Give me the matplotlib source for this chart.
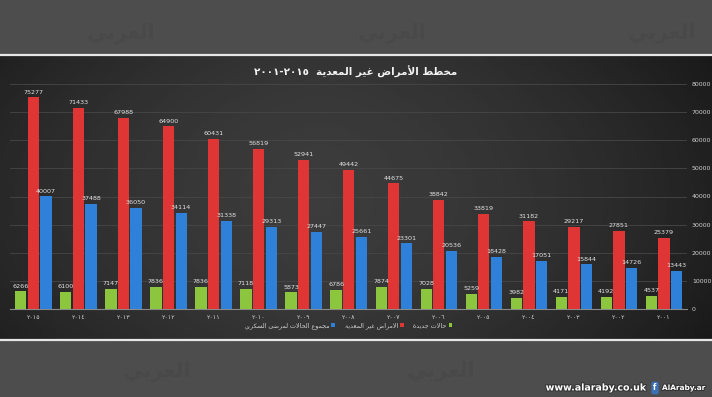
import matplotlib
matplotlib.use("Agg")
import matplotlib.pyplot as plt
import matplotlib.patheffects as pe
import numpy as np
from matplotlib.lines import Line2D

# data (2015 -> 2001)
years = ['٢٠١٥', '٢٠١٤', '٢٠١٣', '٢٠١٢', '٢٠١١', '٢٠١٠', '٢٠٠٩', '٢٠٠٨',
         '٢٠٠٧', '٢٠٠٦', '٢٠٠٥', '٢٠٠٤', '٢٠٠٣', '٢٠٠٢', '٢٠٠١']
new_cases = [6266, 6100, 7147, 7836, 7836, 7118, 5873, 6786, 7874, 7028,
             5259, 3982, 4171, 4192, 4537]
non_communicable = [75277, 71433, 67988, 64900, 60431, 56819, 52941, 49442,
                    44675, 38842, 33819, 31182, 29217, 27851, 25379]
diabetes_total = [40007, 37488, 36050, 34114, 31338, 29313, 27447, 25661,
                  23301, 20536, 18428, 17051, 15844, 14726, 13443]

title_text = 'مخطط الأمراض غير المعدية'
title_years = '٢٠٠١-٢٠١٥'
label_new = 'حالات جديدة'
label_ncd = 'الامراض غير المعدية'
label_diab = 'مجموع الحالات لمرضى السكري'

# matplotlib does no Arabic shaping, so pick presentation forms by hand
DUAL = {'ب': 0xFE8F, 'ت': 0xFE95, 'ج': 0xFE9D, 'ح': 0xFEA1, 'خ': 0xFEA5,
        'س': 0xFEB1, 'ض': 0xFEBD, 'ط': 0xFEC1, 'ع': 0xFEC9, 'غ': 0xFECD,
        'ك': 0xFED9, 'ل': 0xFEDD, 'م': 0xFEE1, 'ن': 0xFEE5, 'ي': 0xFEF1}
RIGHT = {'ا': 0xFE8D, 'أ': 0xFE83, 'ة': 0xFE93, 'د': 0xFEA9, 'ر': 0xFEAD,
         'و': 0xFEED, 'ى': 0xFEEF}
LAMALEF = {'ا': 0xFEFB, 'أ': 0xFEF7}


def ar(text):
    out = []
    prev_joins = False
    i = 0
    while i < len(text):
        c = text[i]
        nxt = text[i + 1] if i + 1 < len(text) else ''
        if c == 'ل' and nxt in LAMALEF:
            out.append(chr(LAMALEF[nxt] + (1 if prev_joins else 0)))
            prev_joins = False
            i += 2
            continue
        if c in DUAL:
            next_join = nxt in DUAL or nxt in RIGHT
            base = DUAL[c]
            if prev_joins and next_join:
                code = base + 3
            elif prev_joins:
                code = base + 1
            elif next_join:
                code = base + 2
            else:
                code = base
            out.append(chr(code))
            prev_joins = next_join
        elif c in RIGHT:
            out.append(chr(RIGHT[c] + (1 if prev_joins else 0)))
            prev_joins = False
        else:
            out.append(c)
            prev_joins = False
        i += 1
    return ''.join(reversed(out))


plt.rcParams['font.family'] = ['DejaVu Sans']

W, H = 712, 397
fig = plt.figure(figsize=(W / 100, H / 100), dpi=100, facecolor='#4d4d4d')

# faint logo watermarks on the grey bands
for wx, wy in [(0.17, 0.915), (0.55, 0.915), (0.93, 0.915),
               (0.22, 0.065), (0.62, 0.065)]:
    fig.text(wx, wy, ar('العربي'), fontsize=15, fontweight='bold',
             color='#494949', ha='center', va='center')

# dark chart panel with a soft gradient
bg = fig.add_axes([0, (H - 340) / H, 1, 284 / H])
xx = np.linspace(-1, 1, 300)
yy = np.linspace(-1, 1, 100)
X, Y = np.meshgrid(xx, yy)
shade = 0.235 - 0.09 * np.abs(X + 0.1) ** 1.6 - 0.03 * Y ** 2
bg.imshow(shade, cmap='gray', vmin=0, vmax=1, aspect='auto',
          extent=[0, 1, 0, 1])
bg.set_axis_off()

fig.add_artist(Line2D([0, 1], [(H - 55) / H] * 2, color='#e6e6e6', lw=1.6))
fig.add_artist(Line2D([0, 1], [(H - 340) / H] * 2, color='#e6e6e6', lw=1.6))

ax = fig.add_axes([10 / W, 88 / H, 677 / W, 225 / H])
ax.set_facecolor('none')

x = np.arange(len(years))
w = 0.25
b1 = ax.bar(x - 0.28, new_cases, w, color='#8cc63f', label=label_new, zorder=3)
b2 = ax.bar(x, non_communicable, w, color='#e03535', label=label_ncd, zorder=3)
b3 = ax.bar(x + 0.28, diabetes_total, w, color='#2f80d8', label=label_diab, zorder=3)

for bars in (b1, b2, b3):
    ax.bar_label(bars, padding=2, fontsize=4.6, color='#e2e2e2')

ax.set_xlim(-0.52, 14.51)
ax.set_ylim(0, 80000)
ax.set_yticks(range(0, 80001, 10000))
ax.yaxis.tick_right()
ax.tick_params(axis='y', length=0, pad=3.5, labelsize=4.5, colors='#cfcfcf')
ax.set_xticks(x)
ax.set_xticklabels(years)
ax.tick_params(axis='x', length=0, pad=4, labelsize=4.6, colors='#cfcfcf')
ax.grid(axis='y', color='#474747', lw=0.6, zorder=0)
for s in ['top', 'left', 'right']:
    ax.spines[s].set_visible(False)
ax.spines['bottom'].set_color('#8a8a8a')
ax.spines['bottom'].set_linewidth(0.8)

# legend is right-to-left: swatch after text
handles = [b3, b2, b1]
ax.legend(handles, [ar(label_diab), ar(label_ncd), ar(label_new)],
          loc='center', bbox_to_anchor=(0.5, (H - 326 - 88) / 225),
          ncol=3, frameon=False, markerfirst=False, fontsize=4.6,
          labelcolor='#cfcfcf', handlelength=0.6, handleheight=0.6,
          handletextpad=0.3, columnspacing=1.5)

fig.text(0.5, (H - 72) / H, title_years + '  ' + ar(title_text),
         ha='center', va='center', fontsize=7.5, fontweight='bold',
         color='#f2f2f2')

# site credit bottom right
stroke = [pe.withStroke(linewidth=1.5, foreground='#333333')]
fig.text(647 / W, (H - 388) / H, 'www.alaraby.co.uk', ha='right',
         va='center', fontsize=6.8, fontweight='bold', color='white',
         path_effects=stroke)
fig.text(655 / W, (H - 388) / H, 'f', ha='center', va='center', fontsize=5.5,
         fontweight='bold', color='white',
         bbox=dict(boxstyle='round,pad=0.25', fc='#3b6fb6', ec='none'))
fig.text(662 / W, (H - 388) / H, 'AlAraby.ar', ha='left', va='center',
         fontsize=5.3, fontweight='bold', color='white', path_effects=stroke)

fig.savefig('out.png', dpi=100, facecolor=fig.get_facecolor())
